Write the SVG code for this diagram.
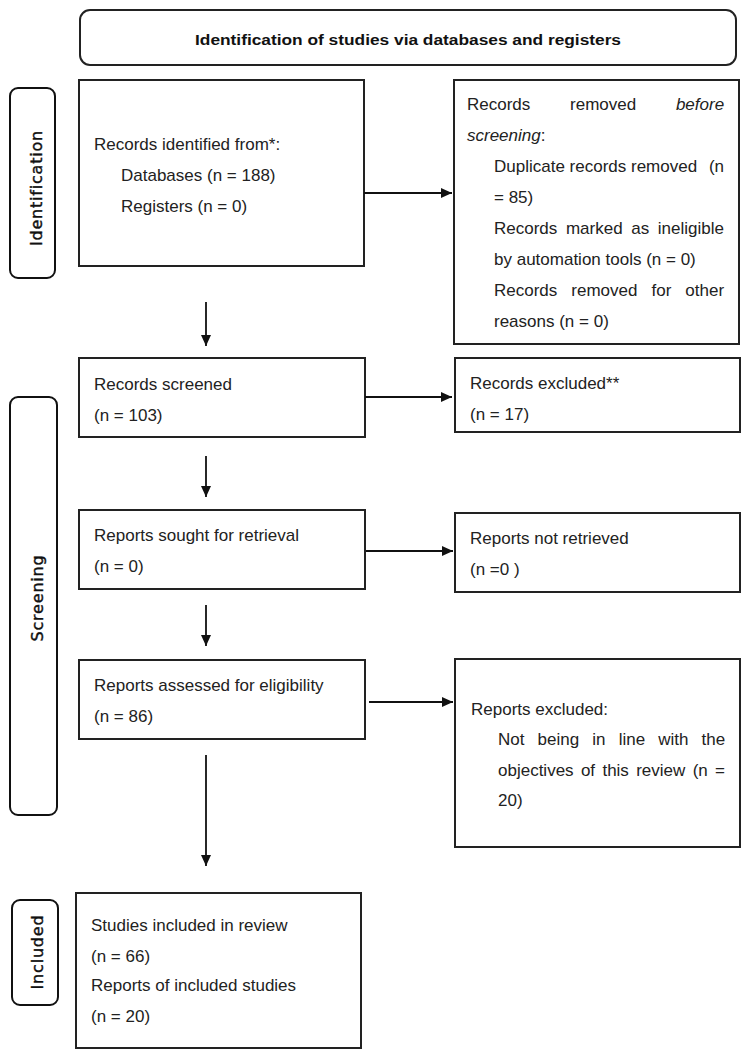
<svg xmlns="http://www.w3.org/2000/svg" width="751" height="1058" viewBox="0 0 751 1058">
<style>
.box{fill:#fff;stroke:#222;stroke-width:2}
.side{fill:#fff;stroke:#111;stroke-width:2}
.t{font-family:"Liberation Sans",Arial,sans-serif;font-size:17px;fill:#222}
.it{font-style:italic}
.title{font-family:"Liberation Sans",Arial,sans-serif;font-size:14px;font-weight:bold;fill:#111}
.sl{font-family:"DejaVu Sans",Verdana,sans-serif;font-size:16px;fill:#111;stroke:#111;stroke-width:0.4;letter-spacing:0.8px}
.c{stroke:#111;stroke-width:1.8;fill:none}
</style>
<defs>
<marker id="ah" markerWidth="12" markerHeight="12" refX="11" refY="5.5" orient="auto" markerUnits="userSpaceOnUse">
<path d="M0,0.5 L11,5.5 L0,10.5 Z" fill="#111"/>
</marker>
</defs>
<rect width="751" height="1058" fill="#fff"/>

<g id="title">
<rect class="box" x="80" y="10" width="656" height="55" rx="10"/>
<text class="title" x="408" y="45" text-anchor="middle" textLength="426" lengthAdjust="spacingAndGlyphs">Identification of studies via databases and registers</text>
</g>

<g id="side-identification">
<rect class="side" x="10" y="88" width="45" height="190" rx="8"/>
<text class="sl" transform="translate(42,188) rotate(-90)" text-anchor="middle">Identification</text>
</g>
<g id="side-screening">
<rect class="side" x="10" y="397" width="47" height="418" rx="8"/>
<text class="sl" transform="translate(43,598) rotate(-90)" text-anchor="middle">Screening</text>
</g>
<g id="side-included">
<rect class="side" x="12" y="900" width="46" height="105" rx="8"/>
<text class="sl" transform="translate(43,952) rotate(-90)" text-anchor="middle">Included</text>
</g>

<g id="identified">
<rect class="box" x="79" y="80" width="285" height="186"/>
<text class="t" x="94" y="150">Records identified from*:</text>
<text class="t" x="121" y="181">Databases (n = 188)</text>
<text class="t" x="121" y="212">Registers (n = 0)</text>
</g>

<g id="removed">
<rect class="box" x="454" y="80" width="285" height="264"/>
<text class="t" x="467" y="110" word-spacing="35">Records removed <tspan class="it">before</tspan></text>
<text class="t" x="467" y="141"><tspan class="it">screening</tspan>:</text>
<text class="t" x="494" y="172">Duplicate records removed</text>
<text class="t" x="724" y="172" text-anchor="end">(n</text>
<text class="t" x="494" y="203">= 85)</text>
<text class="t" x="494" y="234" word-spacing="3.9">Records marked as ineligible</text>
<text class="t" x="494" y="265">by automation tools (n = 0)</text>
<text class="t" x="494" y="296" word-spacing="9.3">Records removed for other</text>
<text class="t" x="494" y="327">reasons (n = 0)</text>
</g>

<g id="screened">
<rect class="box" x="79" y="358" width="286" height="79"/>
<text class="t" x="94" y="390">Records screened</text>
<text class="t" x="94" y="421">(n = 103)</text>
</g>

<g id="excluded">
<rect class="box" x="455" y="358" width="285" height="74"/>
<text class="t" x="470" y="389">Records excluded**</text>
<text class="t" x="470" y="420">(n = 17)</text>
</g>

<g id="sought">
<rect class="box" x="79" y="510" width="286" height="79"/>
<text class="t" x="94" y="541">Reports sought for retrieval</text>
<text class="t" x="94" y="572">(n = 0)</text>
</g>

<g id="notretrieved">
<rect class="box" x="455" y="513" width="285" height="79"/>
<text class="t" x="470" y="544">Reports not retrieved</text>
<text class="t" x="470" y="575">(n =0 )</text>
</g>

<g id="assessed">
<rect class="box" x="79" y="660" width="286" height="79"/>
<text class="t" x="94" y="691">Reports assessed for eligibility</text>
<text class="t" x="94" y="722">(n = 86)</text>
</g>

<g id="reportsexcluded">
<rect class="box" x="455" y="659" width="285" height="188"/>
<text class="t" x="471" y="715">Reports excluded:</text>
<text class="t" x="498" y="745" word-spacing="8.4">Not being in line with the</text>
<text class="t" x="498" y="776" word-spacing="2.6">objectives of this review (n =</text>
<text class="t" x="498" y="806">20)</text>
</g>

<g id="included">
<rect class="box" x="76" y="893" width="285" height="155"/>
<text class="t" x="91" y="931">Studies included in review</text>
<text class="t" x="91" y="962">(n = 66)</text>
<text class="t" x="91" y="991">Reports of included studies</text>
<text class="t" x="91" y="1022">(n = 20)</text>
</g>

<g id="connectors">
<line class="c" x1="364" y1="193" x2="452" y2="193" marker-end="url(#ah)"/>
<line class="c" x1="206" y1="302" x2="206" y2="346" marker-end="url(#ah)"/>
<line class="c" x1="365" y1="397" x2="452" y2="397" marker-end="url(#ah)"/>
<line class="c" x1="206" y1="456" x2="206" y2="497" marker-end="url(#ah)"/>
<line class="c" x1="366" y1="551" x2="453" y2="551" marker-end="url(#ah)"/>
<line class="c" x1="206" y1="605" x2="206" y2="646" marker-end="url(#ah)"/>
<line class="c" x1="369" y1="702" x2="453" y2="702" marker-end="url(#ah)"/>
<line class="c" x1="206" y1="755" x2="206" y2="866" marker-end="url(#ah)"/>
</g>
</svg>
